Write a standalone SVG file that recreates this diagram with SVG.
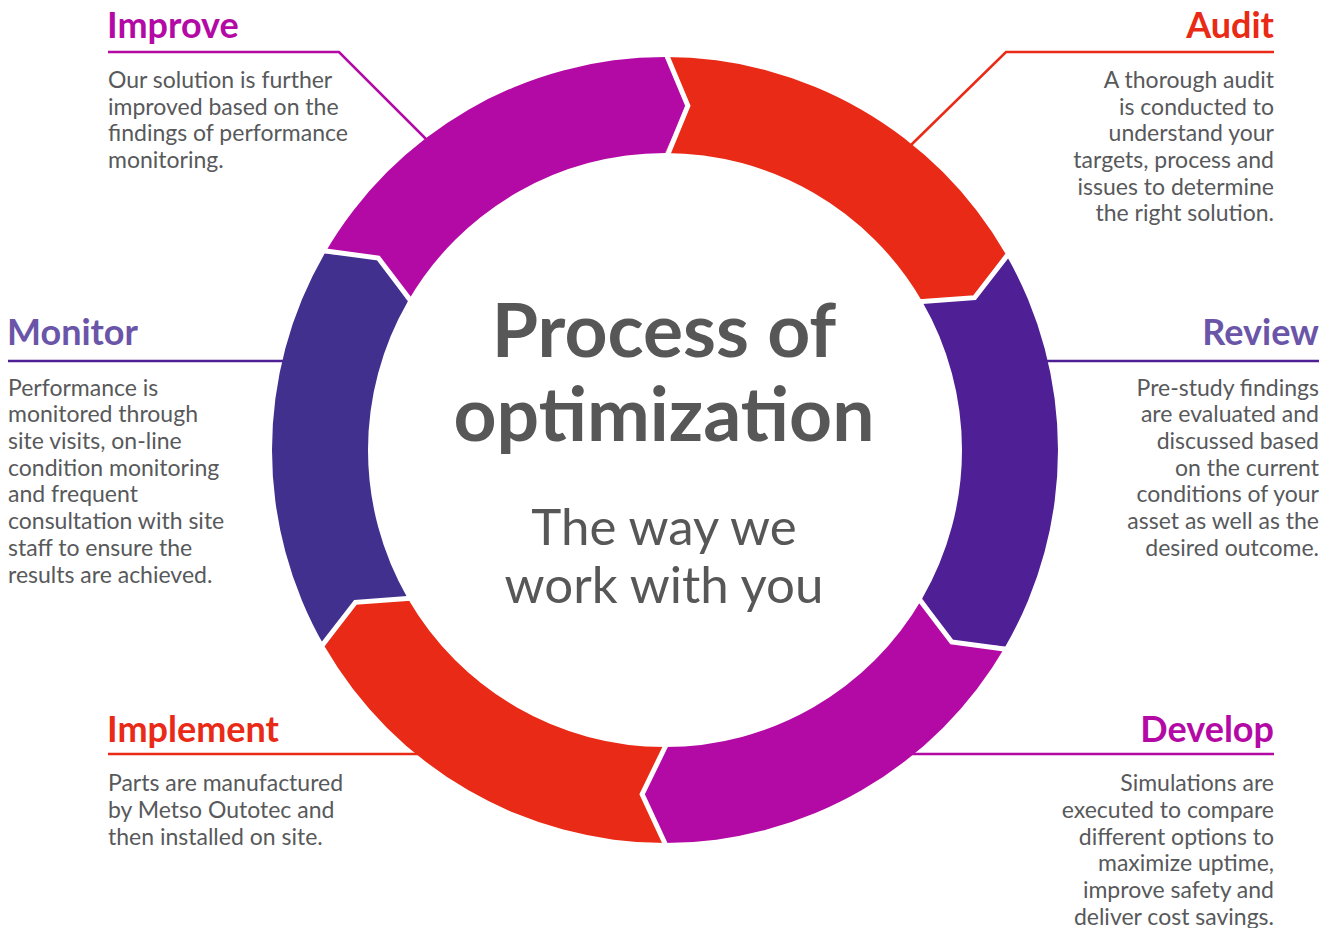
<svg xmlns="http://www.w3.org/2000/svg" width="1335" height="928" viewBox="0 0 1335 928">
<style>
.t{font-family:Lato,"Open Sans","Liberation Sans",sans-serif;font-weight:700;font-size:36px}
.b{font-family:Lato,"Open Sans","Liberation Sans",sans-serif;font-size:23px;fill:#58595b}
.r{text-anchor:end}
.ln{fill:none;stroke-width:2.5}
.gap{fill:none;stroke:#fff;stroke-width:5;stroke-linejoin:miter}
.c1{font-family:Lato,"Open Sans","Liberation Sans",sans-serif;font-weight:700;font-size:75px;fill:#575757;text-anchor:middle}
.c2{font-family:Lato,"Open Sans","Liberation Sans",sans-serif;font-size:51px;fill:#575757;text-anchor:middle}
</style>
<rect width="1335" height="928" fill="#fff"/>
<g id="connectors">
<polyline class="ln" stroke="#b40aa5" points="108,52 339,52 428,141"/>
<polyline class="ln" stroke="#e92a16" points="1274,52 1006,52 910,146"/>
<polyline class="ln" stroke="#4f1f95" points="8,361 290,361"/>
<polyline class="ln" stroke="#4f1f95" points="1040,361 1319,361"/>
<polyline class="ln" stroke="#e92a16" points="108,754 425,754"/>
<polyline class="ln" stroke="#b40aa5" points="905,754 1274,754"/>
</g>
<g id="ring">
<path id="seg-audit" fill="#e92a16" d="M665,57 A393,393 0 0 1 1005.35,253.5 L974.55,297.68 L922.21,301.5 A297,297 0 0 0 665,153 L687.86,105.76 Z"/>
<path id="seg-review" fill="#4f1f95" d="M1005.35,253.5 A393,393 0 0 1 1005.35,646.5 L951.69,641.92 L922.21,598.5 A297,297 0 0 0 922.21,301.5 L974.55,297.68 Z"/>
<path id="seg-develop" fill="#b40aa5" d="M1005.35,646.5 A393,393 0 0 1 665,843 L642.14,794.24 L665,747 A297,297 0 0 0 922.21,598.5 L951.69,641.92 Z"/>
<path id="seg-implement" fill="#e92a16" d="M665,843 A393,393 0 0 1 324.65,646.5 L355.45,602.32 L407.79,598.5 A297,297 0 0 0 665,747 L642.14,794.24 Z"/>
<path id="seg-monitor" fill="#42308f" d="M324.65,646.5 A393,393 0 0 1 324.65,253.5 L378.31,258.08 L407.79,301.5 A297,297 0 0 0 407.79,598.5 L355.45,602.32 Z"/>
<path id="seg-improve" fill="#b40aa5" d="M324.65,253.5 A393,393 0 0 1 665,57 L687.86,105.76 L665,153 A297,297 0 0 0 407.79,301.5 L378.31,258.08 Z"/>
<g id="gaps">
<polyline class="gap" points="664.5,50 687.86,105.76 665.5,160"/>
<polyline class="gap" points="1011.5,250 974.55,297.68 915.5,302"/>
<polyline class="gap" points="1011.5,650 951.69,641.92 916,595"/>
<polyline class="gap" points="668,850 642.14,794.24 668.5,740"/>
<polyline class="gap" points="318.5,650 355.45,602.32 414,598"/>
<polyline class="gap" points="318.5,250 378.31,258.08 414,305"/>
</g>
</g>
<g id="center">
<text class="c1" x="664" y="357">Process of</text>
<text class="c1" x="664" y="441">optimization</text>
<text class="c2" x="664" y="545">The way we</text>
<text class="c2" x="664" y="603">work with you</text>
</g>
<g id="improve">
<text class="t" x="107" y="38" fill="#b40aa5">Improve</text>
<text class="b" x="108" y="88">Our solution is further</text>
<text class="b" x="108" y="115">improved based on the</text>
<text class="b" x="108" y="141">findings of performance</text>
<text class="b" x="108" y="168">monitoring.</text>
</g>
<g id="audit">
<text class="t r" x="1274" y="38" fill="#e92a16">Audit</text>
<text class="b r" x="1274" y="88">A thorough audit</text>
<text class="b r" x="1274" y="115">is conducted to</text>
<text class="b r" x="1274" y="141">understand your</text>
<text class="b r" x="1274" y="168">targets, process and</text>
<text class="b r" x="1274" y="195">issues to determine</text>
<text class="b r" x="1274" y="221">the right solution.</text>
</g>
<g id="monitor">
<text class="t" x="7" y="345" fill="#6a55a8">Monitor</text>
<text class="b" x="8" y="396">Performance is</text>
<text class="b" x="8" y="422">monitored through</text>
<text class="b" x="8" y="449">site visits, on-line</text>
<text class="b" x="8" y="476">condition monitoring</text>
<text class="b" x="8" y="502">and frequent</text>
<text class="b" x="8" y="529">consultation with site</text>
<text class="b" x="8" y="556">staff to ensure the</text>
<text class="b" x="8" y="583">results are achieved.</text>
</g>
<g id="review">
<text class="t r" x="1319" y="345" fill="#6a55a8">Review</text>
<text class="b r" x="1319" y="396">Pre-study findings</text>
<text class="b r" x="1319" y="422">are evaluated and</text>
<text class="b r" x="1319" y="449">discussed based</text>
<text class="b r" x="1319" y="476">on the current</text>
<text class="b r" x="1319" y="502">conditions of your</text>
<text class="b r" x="1319" y="529">asset as well as the</text>
<text class="b r" x="1319" y="556">desired outcome.</text>
</g>
<g id="implement">
<text class="t" x="107" y="742" fill="#e92a16">Implement</text>
<text class="b" x="108" y="791">Parts are manufactured</text>
<text class="b" x="108" y="818">by Metso Outotec and</text>
<text class="b" x="108" y="845">then installed on site.</text>
</g>
<g id="develop">
<text class="t r" x="1274" y="742" fill="#b40aa5">Develop</text>
<text class="b r" x="1274" y="791">Simulations are</text>
<text class="b r" x="1274" y="818">executed to compare</text>
<text class="b r" x="1274" y="845">different options to</text>
<text class="b r" x="1274" y="871">maximize uptime,</text>
<text class="b r" x="1274" y="898">improve safety and</text>
<text class="b r" x="1274" y="925">deliver cost savings.</text>
</g>
</svg>
